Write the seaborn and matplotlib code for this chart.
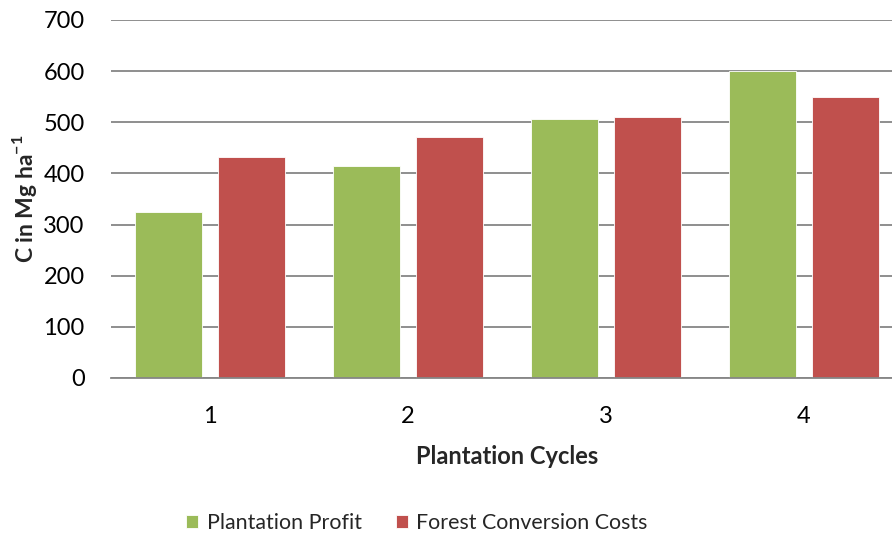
import matplotlib
matplotlib.use("Agg")
import matplotlib.pyplot as plt
import seaborn as sns
import pandas as pd

cycles = ["1", "2", "3", "4"]
plantation_profit = [324, 415, 507, 600]
forest_conversion_costs = [433, 471, 511, 550]
series_names = ["Plantation Profit", "Forest Conversion Costs"]
y_ticks = [0, 100, 200, 300, 400, 500, 600, 700]

df = pd.DataFrame({
    "cycle": cycles * 2,
    "value": plantation_profit + forest_conversion_costs,
    "series": [series_names[0]] * 4 + [series_names[1]] * 4,
})

sns.set_theme(style="white")
plt.rcParams["font.family"] = ["Lato", "DejaVu Sans"]
plt.rcParams["mathtext.fontset"] = "custom"
plt.rcParams["mathtext.rm"] = "Lato"
plt.rcParams["mathtext.bf"] = "Lato:bold"

fig = plt.figure(figsize=(8.92, 5.4), dpi=100)
ax = fig.add_axes([111 / 892, (540 - 378) / 540, 792 / 892, (378 - 20) / 540])

palette = {series_names[0]: "#9BBB59", series_names[1]: "#C0504D"}
sns.barplot(data=df, x="cycle", y="value", hue="series", palette=palette,
            width=0.84, gap=0.195, ax=ax, saturation=1,
            edgecolor="#ffffff", linewidth=0.6, legend=True, zorder=3)

ax.set_ylim(0, 700)
ax.set_yticks(y_ticks)
ax.set_xlim(-0.5, 3.5)
ax.yaxis.grid(True, color="#868686", linewidth=1.3, zorder=0)
ax.set_axisbelow(True)
for s in ["top", "right", "left"]:
    ax.spines[s].set_visible(False)
ax.spines["bottom"].set_color("#868686")
ax.spines["bottom"].set_linewidth(1.3)
ax.spines["bottom"].set_zorder(4)
ax.tick_params(axis="both", length=0, labelsize=17, colors="#000000")
ax.tick_params(axis="x", pad=20)
ax.tick_params(axis="y", pad=19)

ax.set_xlabel("Plantation Cycles", fontsize=17, fontweight="bold", labelpad=13)
ax.set_ylabel(r"C in Mg ha$^{\mathbf{-1}}$", fontsize=16.5, fontweight="bold")
ax.yaxis.set_label_coords(-0.091, 0.5)

leg = ax.get_legend()
handles, labels = ax.get_legend_handles_labels()
leg.remove()
fig.legend(handles, labels, loc="center", bbox_to_anchor=(417 / 892, 1 - 523 / 540),
           ncol=2, frameon=False, fontsize=15.4, handlelength=0.55, handleheight=0.55,
           handletextpad=0.4, columnspacing=1.6)

fig.savefig("out.png", dpi=100)
